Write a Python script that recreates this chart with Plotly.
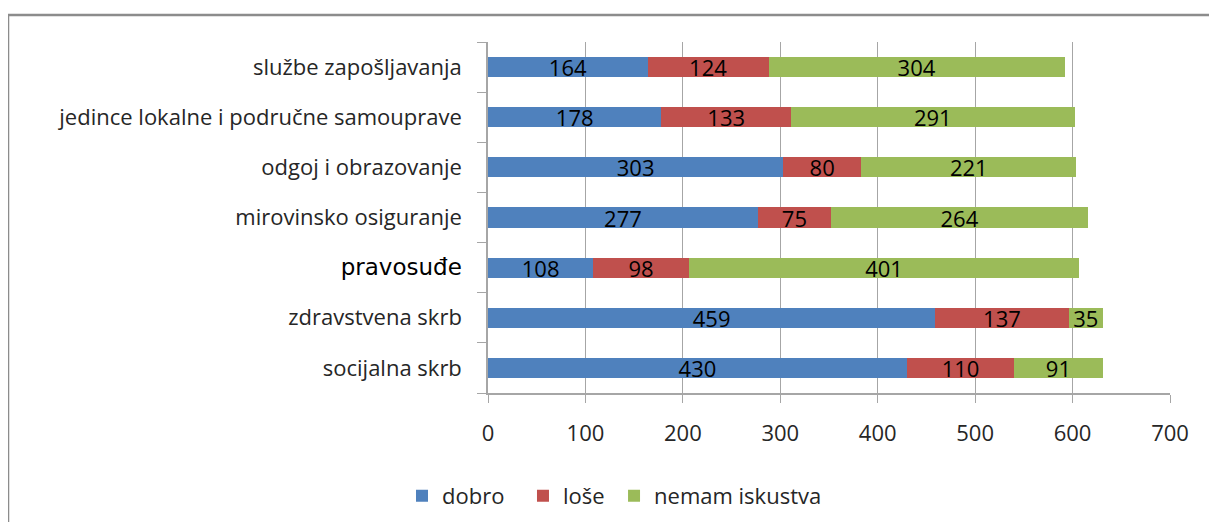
import plotly.graph_objects as go

categories = ["socijalna skrb", "zdravstvena skrb", "pravosuđe", "mirovinsko osiguranje",
              "odgoj i obrazovanje", "jedince lokalne i područne samouprave", "službe zapošljavanja"]
dobro = [430, 459, 108, 277, 303, 178, 164]
lose = [110, 137, 98, 75, 80, 133, 124]
nemam = [91, 35, 401, 264, 221, 291, 304]
series_names = ["dobro", "loše", "nemam iskustva"]
colors = ["#4F81BD", "#C0504D", "#9BBB59"]
x_ticks = [0, 100, 200, 300, 400, 500, 600, 700]

FONT = "Open Sans, Noto Sans, sans-serif"

tick_text = []
for c in categories:
    if c == "pravosuđe":
        tick_text.append("<span style='font-family:DejaVu Sans; font-size:23px; fill:#000000'>" + c + "</span>")
    else:
        tick_text.append(c)

legend_ids = ["legend", "legend2", "legend3"]
legend_x = [-0.1261, 0.0513, 0.1848]

fig = go.Figure()
for name, vals, col, lid in zip(series_names, [dobro, lose, nemam], colors, legend_ids):
    fig.add_trace(go.Bar(
        y=categories, x=vals, name=name, orientation="h",
        marker=dict(color=col, line=dict(width=0)),
        text=vals, textposition="inside", insidetextanchor="middle", textangle=0,
        textfont=dict(family=FONT, size=22, color="#000000"),
        cliponaxis=False, legend=lid,
    ))

legend_common = dict(orientation="h", xanchor="left", y=-0.293, yanchor="middle",
                     font=dict(family=FONT, size=22, color="#262626"),
                     itemwidth=30, bgcolor="rgba(0,0,0,0)")

fig.update_layout(
    barmode="stack", bargap=0.6,
    width=1209, height=514,
    margin=dict(l=480, r=47, t=34, b=129, autoexpand=False),
    paper_bgcolor="white", plot_bgcolor="white",
    font=dict(family=FONT, size=22, color="#262626"),
    uniformtext=dict(minsize=22, mode="show"),
    showlegend=True,
    legend=dict(x=legend_x[0], **legend_common),
    legend2=dict(x=legend_x[1], **legend_common),
    legend3=dict(x=legend_x[2], **legend_common),
    xaxis=dict(range=[0, 700], tickvals=x_ticks, ticktext=[str(t) for t in x_ticks],
               showgrid=True, gridcolor="#A6A6A6", gridwidth=1,
               showline=True, linecolor="#A6A6A6", linewidth=1.5,
               ticks="outside", ticklen=8, tickcolor="#A6A6A6", ticklabelstandoff=12,
               tickfont=dict(family=FONT, size=22, color="#262626"), zeroline=False,
               automargin=False),
    yaxis=dict(categoryorder="array", categoryarray=categories,
               tickvals=categories, ticktext=tick_text,
               tickson="boundaries", ticks="outside", ticklen=9, tickcolor="#A6A6A6",
               ticklabelstandoff=20, automargin=False,
               showline=True, linecolor="#A6A6A6", linewidth=1.5,
               showgrid=False, tickfont=dict(family=FONT, size=22, color="#262626")),
    shapes=[dict(type="rect", xref="paper", yref="paper",
                 x0=-0.7038, x1=1.3, y0=-0.6, y1=1.0769,
                 line=dict(color="#8C8C8C", width=2.5), fillcolor="rgba(0,0,0,0)", layer="below")],
)

fig.write_html("out.html")
